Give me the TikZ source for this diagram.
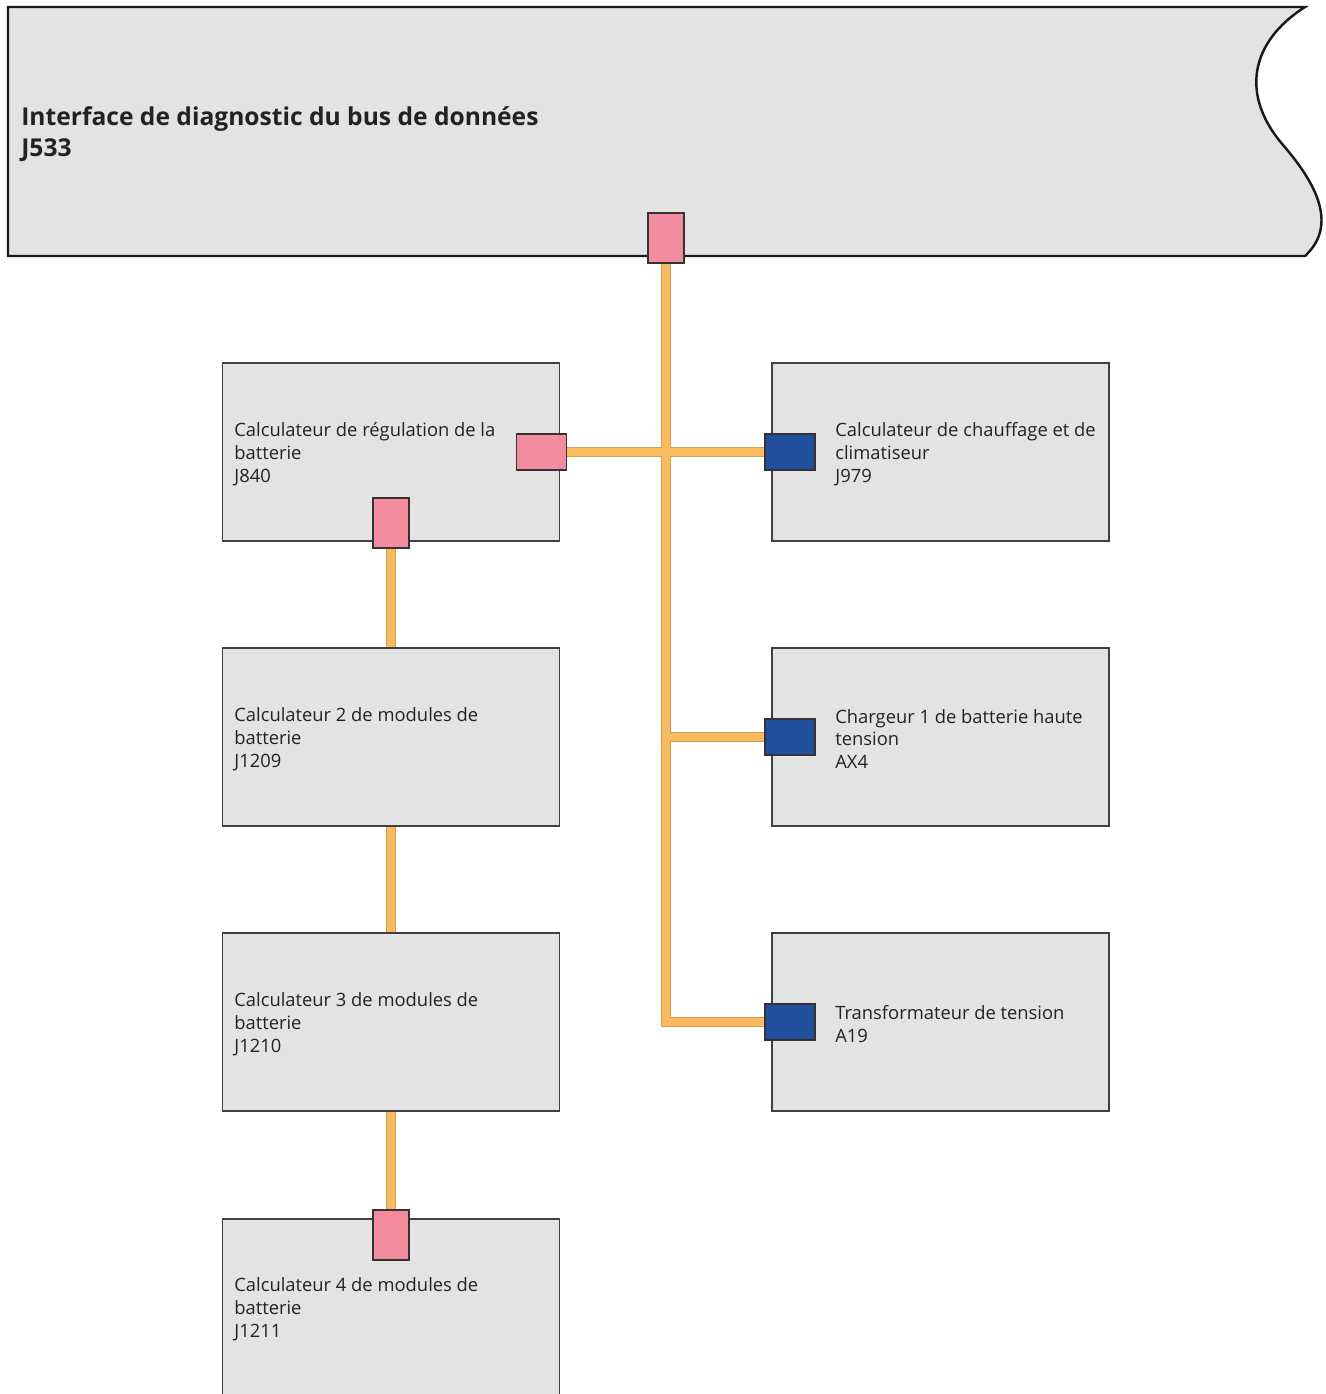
\documentclass[tikz,border=0pt]{standalone}
\usepackage{fontspec}
\setmainfont{Open Sans}
\usetikzlibrary{positioning}
\pgfdeclarelayer{background}
\pgfsetlayers{background,main}

\definecolor{boxgray}{RGB}{227,227,227}
\definecolor{framegray}{RGB}{64,64,64}
\definecolor{plugpink}{RGB}{244,140,160}
\definecolor{plugblue}{RGB}{34,80,159}
\definecolor{busorange}{RGB}{250,187,96}
\definecolor{busedge}{RGB}{214,158,80}
\definecolor{txt}{RGB}{34,34,34}

\tikzset{
  ecu/.style={draw=framegray, fill=boxgray, line width=0.85pt, minimum width=6.74cm, minimum height=3.56cm, inner sep=0},
  lbl/.style={anchor=west, align=left, inner sep=0, text=txt, font=\fontsize{10.45}{13}\selectfont},
  plugh/.style={draw=black!80, line width=0.6pt, minimum width=1cm, minimum height=0.72cm, inner sep=0},
  plugv/.style={draw=black!80, line width=0.6pt, minimum width=0.72cm, minimum height=1cm, inner sep=0},
  buswide/.style={draw=busedge, line width=0.2cm},
  busfill/.style={draw=busorange, line width=0.15cm},
}

\begin{document}
\begin{tikzpicture}[x=0.02cm, y=-0.02cm]
\useasboundingbox (0,0) rectangle (1326,1394);
% gateway banner
\draw[fill=boxgray, draw=black!90, line width=1.4pt] (8,7) -- (1305,7)
  .. controls (1250,42) and (1240,95) .. (1283,145)
  .. controls (1322,190) and (1335,228) .. (1305,256) -- (8,256) -- cycle;
\node[lbl, font=\bfseries\fontsize{14}{18}\selectfont] (tJ533) at (21,134) {Interface de diagnostic du bus de données\\J533};

% control units
\node[ecu] (J840) at (391,452){};
\node[ecu] (J1209) at (391,737){};
\node[ecu] (J1210) at (391,1022){};
\node[ecu, minimum height=4cm, anchor=north] (J1211) at (391,1218){};
\node[ecu] (J979) at (940.5,452){};
\node[ecu] (AX4) at (940.5,737){};
\node[ecu] (A19) at (940.5,1022){};

\node[lbl] (tJ840) at (234,454) {Calculateur de régulation de la\\batterie\\J840};
\node[lbl] (tJ1209) at (234,739) {Calculateur 2 de modules de\\batterie\\J1209};
\node[lbl] (tJ1210) at (234,1024) {Calculateur 3 de modules de\\batterie\\J1210};
\node[lbl] (tJ1211) at (234,1309) {Calculateur 4 de modules de\\batterie\\J1211};
\node[lbl] (tJ979) at (835,454) {Calculateur de chauffage et de\\climatiseur\\J979};
\node[lbl] (tAX4) at (835,739) {Chargeur 1 de batterie haute\\tension\\AX4};
\node[lbl] (tA19) at (835,1024) {Transformateur de tension\\A19};

% bus plugs
\node[plugv, fill=plugpink] (pJ533) at (666,238){};
\node[plugh, fill=plugpink] (pJ840r) at (541.5,452){};
\node[plugv, fill=plugpink] (pJ840b) at (391,523){};
\node[plugv, fill=plugpink] (pJ1211) at (391,1235){};
\node[plugh, fill=plugblue] (pJ979) at (790,452){};
\node[plugh, fill=plugblue] (pAX4) at (790,737){};
\node[plugh, fill=plugblue] (pA19) at (790,1022){};

% bus lines, edge first then fill
\begin{pgfonlayer}{background}
\foreach \st in {buswide,busfill}{
  \draw[\st] (pJ533.south) |- (pA19.west);
  \draw[\st] (pJ840r.east) -- (pJ979.west);
  \draw[\st] (pAX4.west) -- (pAX4.west -| pJ533);
  \draw[\st] (pJ840b.south) -- (J1209.north);
  \draw[\st] (J1209.south) -- (J1210.north);
  \draw[\st] (J1210.south) -- (pJ1211.north);
}
\end{pgfonlayer}
\end{tikzpicture}
\end{document}
